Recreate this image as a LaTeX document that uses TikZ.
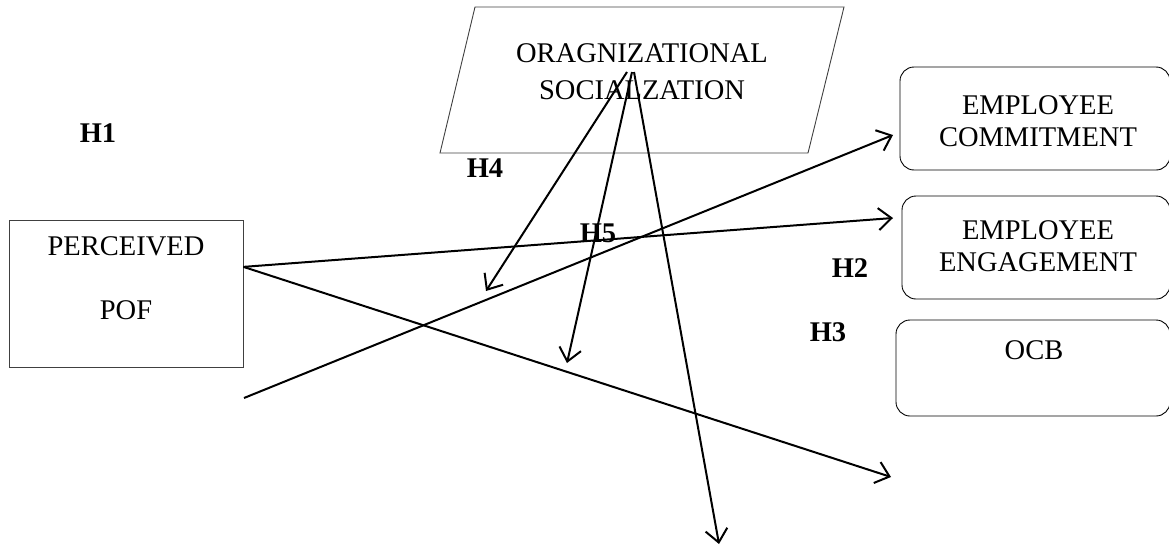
\documentclass[tikz,border=0pt]{standalone}
\usepackage{fontspec}
\setmainfont{Liberation Serif}
\usetikzlibrary{arrows.meta,calc}
\tikzset{
  txt/.style={font=\fontsize{28.5}{32}\selectfont, inner sep=0pt, align=center},
  hlab/.style={font=\fontsize{28.5}{32}\selectfont\bfseries, inner sep=0pt},
  sqbox/.style={draw=black!75, line width=0.9pt, rectangle, inner sep=0pt},
  rbox/.style={draw=black, line width=0.9pt, rectangle, rounded corners=14pt, inner sep=0pt},
  conn/.style={line width=2pt, -{Straight Barb[length=13pt,width=22pt,line width=2pt]}},
  plain/.style={line width=2pt}
}
\begin{document}
\begin{tikzpicture}[x=1pt,y=-1pt]
\useasboundingbox (0,0) rectangle (1169,546);
% parallelogram
\coordinate (p1) at (475,7);
\coordinate (p2) at (844,7);
\coordinate (p3) at (808,153);
\coordinate (p4) at (440,153);
\draw[draw=black!75, line width=0.9pt] (p1) -- (p2) -- (p3) -- (p4) -- cycle;
\node[txt, font=\fontsize{28.5}{37}\selectfont] (ostxt) at (642,71.5) {ORAGNIZATIONAL\\SOCIALZATION};
% left box
\node[sqbox, minimum width=234pt, minimum height=147pt] (pof) at (126,293.5) {};
\node[txt, font=\fontsize{28.5}{64}\selectfont] (poftxt) at (126,278) {PERCEIVED\\POF};
% right boxes
\node[rbox, minimum width=270pt, minimum height=103pt] (ec) at (1035,118.5) {};
\node[txt] (ectxt) at (1038,121) {EMPLOYEE\\COMMITMENT};
\node[rbox, minimum width=268pt, minimum height=103pt] (ee) at (1036,247.5) {};
\node[txt] (eetxt) at (1038,246) {EMPLOYEE\\ENGAGEMENT};
\node[rbox, minimum width=274pt, minimum height=96pt] (ocb) at (1033,368) {};
\node[txt] (ocbtxt) at (1034,350) {OCB};
% labels
\node[hlab] (h1) at (98,133) {H1};
\node[hlab] (h4) at (485,168) {H4};
\node[hlab] (h5) at (598,233) {H5};
\node[hlab] (h2) at (850,268) {H2};
\node[hlab] (h3) at (828,332) {H3};
% connector coordinates
\coordinate (s1) at (627,72);
\coordinate (s2) at (632,72);
\coordinate (s3) at (634,72);
\coordinate (e1) at (486,291);
\coordinate (e2) at (567,363);
\coordinate (e3) at (719,544);
\coordinate (pofout) at ($(pof.north east)!0.32!(pof.south east)$);
\coordinate (e5) at (891,477);
\coordinate (cstart) at (244,398);
\coordinate (e4) at (893,218);
\coordinate (e6) at (893,135);
% connectors
\draw[conn] (s1) -- (e1);
\draw[conn] (s2) -- (e2);
\draw[conn] (s3) -- (e3);
\draw[conn] (pofout) -- (e4);
\draw[conn] (pofout) -- (e5);
\draw[conn] (cstart) -- (e6);
\end{tikzpicture}
\end{document}
